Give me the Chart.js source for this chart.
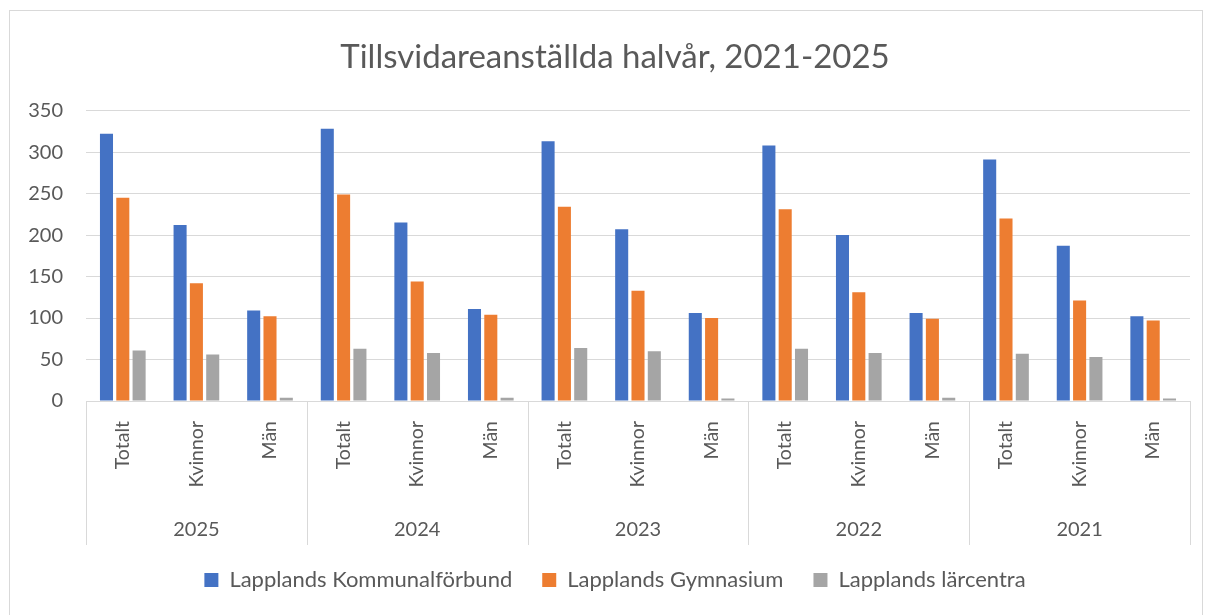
<!DOCTYPE html>
<html>
<head>
<meta charset="utf-8">
<script src="https://cdn.jsdelivr.net/npm/chart.js@4/dist/chart.umd.min.js"></script>
<style>
  body { margin: 0; background: #fff; }
  #wrap { position: absolute; left: 0; top: 0; width: 1209px; height: 615px; }
  #frame { position: absolute; left: 9px; top: 10px; width: 1192px; height: 610px; border: 1px solid #d9d9d9; }
</style>
</head>
<body>
<div id="frame"></div>
<div id="wrap"><canvas id="chart" width="1209" height="615"></canvas></div>
<script>
const years = ['2025', '2024', '2023', '2022', '2021'];
const groups = ['Totalt', 'Kvinnor', 'Män'];
const kommunal = [322, 212, 109, 328, 215, 111, 313, 207, 106, 308, 200, 106, 291, 187, 102];
const gymnasium = [245, 142, 102, 249, 144, 104, 234, 133, 100, 231, 131, 99, 220, 121, 97];
const larcentra = [61, 56, 4, 63, 58, 4, 64, 60, 3, 63, 58, 4, 57, 53, 3];
const yTicks = [0, 50, 100, 150, 200, 250, 300, 350];

const labels = [];
years.forEach(() => groups.forEach(g => labels.push(g)));

const textColor = '#595959';
const gridColor = '#d9d9d9';
const font = 'Lato';

// vertical separators between the year groups
const separators = {
  id: 'separators',
  afterDraw(chart) {
    const xs = chart.scales.x;
    const bottom = chart.scales.x2.bottom + 6;
    const c = chart.ctx;
    c.save();
    c.strokeStyle = gridColor;
    c.lineWidth = 1;
    for (let i = 0; i <= years.length; i++) {
      const x = Math.round(xs.left + i * xs.width / years.length) + 0.5;
      c.beginPath();
      c.moveTo(x, chart.chartArea.bottom);
      c.lineTo(x, bottom);
      c.stroke();
    }
    c.restore();
  }
};

new Chart(document.getElementById('chart'), {
  type: 'bar',
  data: {
    labels: labels,
    datasets: [
      { label: 'Lapplands Kommunalförbund', data: kommunal, backgroundColor: '#4472C4' },
      { label: 'Lapplands Gymnasium', data: gymnasium, backgroundColor: '#ED7D31' },
      { label: 'Lapplands lärcentra', data: larcentra, backgroundColor: '#A5A5A5' }
    ]
  },
  options: {
    responsive: false,
    animation: false,
    categoryPercentage: 0.665,
    barPercentage: 0.8,
    layout: { padding: { left: 28, right: 7, top: 10, bottom: 14 } },
    plugins: {
      title: {
        display: true,
        text: 'Tillsvidareanställda halvår, 2021-2025',
        color: textColor,
        font: { family: font, size: 33, weight: 'normal' },
        padding: { top: 28, bottom: 33 }
      },
      legend: {
        position: 'bottom',
        labels: {
          color: textColor,
          font: { family: font, size: 22 },
          boxWidth: 14,
          boxHeight: 14,
          padding: 30
        }
      },
      tooltip: { enabled: false }
    },
    scales: {
      y: {
        min: 0,
        max: 350,
        afterBuildTicks: s => { s.ticks = yTicks.map(v => ({ value: v })); },
        afterFit: s => { s.width = 58; },
        border: { display: false },
        grid: { color: gridColor, drawTicks: false },
        ticks: { color: textColor, font: { family: font, size: 20 }, padding: 23 }
      },
      y2: {
        position: 'right',
        afterFit: s => { s.width = 12; },
        border: { display: false },
        grid: { display: false, drawTicks: false },
        ticks: { display: false }
      },
      x: {
        weight: 0,
        afterFit: s => { s.height = 105; },
        border: { color: gridColor },
        grid: { display: false, drawTicks: false },
        ticks: {
          color: textColor,
          font: { family: font, size: 19.5 },
          minRotation: 90,
          maxRotation: 90,
          autoSkip: false,
          padding: 20
        }
      },
      x2: {
        type: 'category',
        labels: years,
        offset: true,
        weight: 1,
        position: 'bottom',
        afterFit: s => { s.height = 33; },
        border: { display: false },
        grid: { display: false, drawTicks: false },
        ticks: { color: textColor, font: { family: font, size: 20 }, padding: 12 }
      }
    }
  },
  plugins: [separators]
});
</script>
</body>
</html>
